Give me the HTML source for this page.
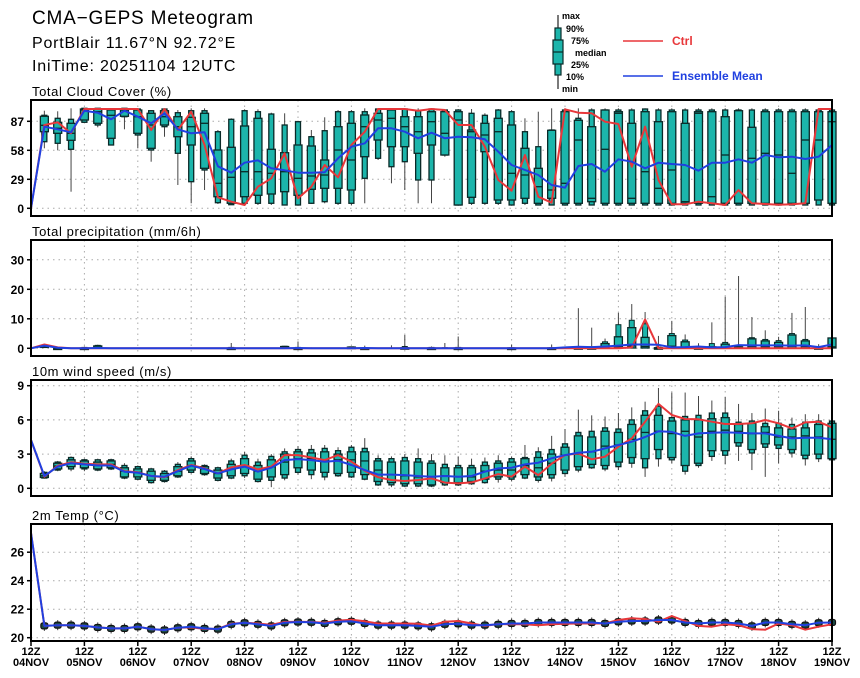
<!DOCTYPE html>
<html><head><meta charset="utf-8"><style>
html,body{margin:0;padding:0;background:#fff;}
svg{display:block;font-family:"Liberation Sans",sans-serif;}
</style></head><body>
<svg id="chart" width="860" height="678" viewBox="0 0 860 678">
<g>
<text x="32" y="24" font-size="19" letter-spacing="0.8">CMA−GEPS Meteogram</text>
<text x="32" y="48" font-size="16" letter-spacing="0.8">PortBlair 11.67°N 92.72°E</text>
<text x="32" y="71" font-size="16" letter-spacing="0.8">IniTime: 20251104 12UTC</text>
</g>
<g font-size="9" font-weight="bold">
<line x1="558" y1="15" x2="558" y2="89" stroke="#222" stroke-width="1.2"/>
<rect x="555" y="28" width="6" height="47" fill="#1cb5ab" stroke="#0a2a28" stroke-width="1.2"/>
<rect x="553" y="40" width="10" height="24" fill="#1cb5ab" stroke="#0a2a28" stroke-width="1.2"/>
<line x1="553" y1="52" x2="563" y2="52" stroke="#0a2a28" stroke-width="1.2"/>
<text x="562" y="19">max</text><text x="566" y="32">90%</text><text x="571" y="44">75%</text>
<text x="575" y="56">median</text><text x="571" y="68">25%</text><text x="566" y="80">10%</text><text x="562" y="92">min</text>
</g>
<g font-size="12" font-weight="bold">
<line x1="623" y1="41" x2="663" y2="41" stroke="#e8373a" stroke-width="1.5"/>
<text x="672" y="45" fill="#e8373a">Ctrl</text>
<line x1="623" y1="76" x2="663" y2="76" stroke="#2040e0" stroke-width="1.5"/>
<text x="672" y="80" fill="#2040e0">Ensemble Mean</text>
</g>
<g id="plots"></g>
</svg>
<script>
// time steps: 0..60 (6-hourly), boxes at 1..60
const dayLabels = ["04NOV","05NOV","06NOV","07NOV","08NOV","09NOV","10NOV","11NOV","12NOV","13NOV","14NOV","15NOV","16NOV","17NOV","18NOV","19NOV"];

const cloudTicks = [0,29,58,87];
const cloudMean = [0,81.6,79,76,97.6,95.6,89,97.6,91.6,85,95,79,75,76,42,35.6,45.6,48,40,38,35.6,35.6,36,50,61.6,65,80,80,76.6,70,75.6,70,71.6,71,69,56.6,43.3,38.3,33.3,23.3,20.6,42.3,44.3,36.6,49,46.6,40,45.6,44.3,43.3,37.6,45.6,45.6,49,45.6,53.3,51,51.6,49.3,51.6,63.3];
const cloudCtrl = [0,83.3,86,75,99.3,99.3,99.3,99.3,99.3,78.3,99.3,78.3,96.6,63.3,11,6.6,3.3,21.6,30,55,10,21.6,43.3,31,63.3,76.6,99.3,99.3,99.3,97.6,99.3,98.3,83.3,83.3,61.6,28.3,17.6,53.3,11.6,5.6,99,95.6,95,86.6,84.3,41.6,81.6,28.3,4,4,6.6,5,3.3,18.3,5,4.3,3.6,4,5,99.3,99.3];
const cloudMax = [97.6,97,100,100,100,100,100,100,98.3,100,98.3,100,100,78.3,90,99,99,95.6,95,87.6,78.3,91,98.3,98.3,100,100,100,100,100,100,99.3,99.3,99.3,95,99.3,98.3,90,96.6,100,100,100,100,100,100,100,100,100,100,100,100,100,100,100,100,100,100,100,100,100,100];
const cloudP90 = [93,90,89,100,100,99.3,100,99.3,97.6,99.3,95.6,97.6,97.6,76.6,89,97.6,96.6,94.3,83.3,86.6,71.6,77.6,96.6,96.6,96.6,99.3,99.3,99.3,97.6,99.3,98.3,98.3,95,93,98.3,96.6,76.6,61.6,78.3,98.3,90,98.3,98.3,98.3,98.3,99.3,98.3,98.3,98.3,98.3,98.3,98.3,98.3,98.3,98.3,98.3,98.3,98.3,98.3,98.3];
const cloudP75 = [92,86,85,99.3,99.3,98.3,99.3,98.3,95,97.6,91.6,91,95,58.3,61,82.3,90,59,55.6,63.3,62.3,48.3,81.6,85,93.3,95,98.3,91.6,91.6,96.6,96.6,96.6,78.3,85,90,83.3,60,40,78,96.6,88,81.6,98.3,96.6,85,96.6,86.6,96.6,85,96.6,96.6,91.6,97.6,81,96.6,96.6,96.6,96.6,96.6,96.6];
const cloudMed = [83,80,75,98.3,96.6,93,98.3,91.6,83.3,91.6,81.6,81.6,85,25,31,36.6,36.6,35,36.6,30,32.3,33.3,58.3,48.3,81.6,88.3,90,81.6,76.6,86.6,75,88.3,76.6,73.3,76.6,35,33.3,21.6,18.3,25,68.3,10,59,95,10,36.6,20,38.3,6.6,95,11.6,53.3,5,50,55,53.3,35,68.3,68.3,86.6];
const cloudP25 = [76.6,75,68,88.3,85,70,92,75,60,83.3,71.6,63.3,40,11.6,5,11.6,13,14.3,16.6,13,19,20,20,18.3,51.6,68.3,61.6,61.6,55,63.3,53.3,3.3,11,56.6,8.3,8.3,10,5,10,5,5,6.6,5,5,5,5,5,5,5,5,5,5,5,5,5,5,5,5,8.3,5];
const cloudP10 = [66.6,65,59,86,83.3,63.3,91.6,73.3,58.3,81.6,55,26.6,38.3,5.6,3.6,5,5,5,3.3,3.3,5,6.6,5,5,30,50,41.6,46.6,28.3,28.3,53.3,3.3,5,5,5,3.3,5,3.3,3.3,3.3,3.3,3.3,3.3,3.3,3.3,3.3,3.3,3.3,3.3,3.3,3.3,3.3,3.3,3.3,3.3,3.3,3.3,3.3,3.3,3.3];
const cloudMin = [60,58,16.6,85.6,81,63.3,79,60,46.6,71.6,23.3,5,18.3,4.3,3.3,3.3,3.3,3.3,3.3,3.3,4.3,5,3.3,3.3,5,48.3,25,18.3,5,5,51.6,3.3,3.3,3.3,3.3,3.3,3.3,3.3,3.3,3.3,3.3,3.3,3.3,3.3,3.3,3.3,3.3,3.3,3.3,3.3,3.3,3.3,3.3,3.3,3.3,3.3,3.3,3.3,3.3,3.3];

const precTicks = [0,10,20,30];
const precMean = [0,0.9,0.2,0,0,0.1,0,0,0,0,0,0,0,0,0,0,0,0,0,0,0.1,0,0,0,0,0.1,0,0,0,0,0,0,0,0,0,0,0,0,0,0,0.3,0.5,0.4,0.6,0.9,1.3,1.3,1.2,0.3,0.4,0.6,0.3,0.4,1.1,1.0,1.0,1.0,0.9,1.0,0.4,1.3];
const precCtrl = [0,1.3,0.3,0,0,0,0,0,0,0,0,0,0,0,0,0,0,0,0,0,0,0,0,0,0,0,0,0,0,0,0,0,0,0,0,0,0,0,0,0,0,0,0,0,0,0.3,9.8,0,0,0,0,0,0,0,0,0,0,0,0,0,0];
const precMax = [1.3,0.3,0.1,0.6,1.2,0,0,0,0,0,0,0,0,0,1.8,0,0,0,0.8,2.3,0.3,0,0,0.6,0.9,0.2,1.0,4.5,0,0.6,1.8,4.0,0,0,0,1.3,0,0,1.3,0,13.6,7.0,3.3,12.0,15.0,12.3,4.2,9.3,4.7,1.7,8.8,17.5,24.5,10.6,6.1,3.9,12.0,14.0,1.4,3.5];
const precP90 = [1.1,0.2,0,0.3,1.0,0,0,0,0,0,0,0,0,0,0.3,0,0,0,0.7,0.3,0,0,0,0.5,0.2,0,0.1,0.6,0,0.3,0.2,0.3,0,0,0,0.2,0,0,0.2,0,0.6,0.5,2.2,8.0,9.5,8.3,0.4,5.0,2.8,0.4,1.6,2.0,1.0,3.6,3.0,2.6,5.0,3.0,0.4,3.5];
const precP75 = [0.9,0.1,0,0.1,0.8,0,0,0,0,0,0,0,0,0,0.1,0,0,0,0.6,0.1,0,0,0,0.4,0.1,0,0,0.2,0,0.1,0,0.1,0,0,0,0.1,0,0,0.1,0,0.2,0.2,1.6,3.9,7.0,3.7,0.2,4.3,2.2,0.2,0.5,1.4,0.5,3.2,2.5,2.0,4.5,2.5,0.2,3.5];
const precMed = [0.6,0,0,0,0.3,0,0,0,0,0,0,0,0,0,0,0,0,0,0.3,0,0,0,0,0.2,0,0,0,0,0,0,0,0,0,0,0,0,0,0,0,0,0,0,0.6,0.5,0.8,0.6,0,0.7,0.4,0,0,0.3,0,0.6,0.5,0.4,0.7,0.6,0,0.5];
const precP25 = [0.3,0,0,0,0.1,0,0,0,0,0,0,0,0,0,0,0,0,0,0.1,0,0,0,0,0.1,0,0,0,0,0,0,0,0,0,0,0,0,0,0,0,0,0,0,0.1,0.1,0.1,0.1,0,0.1,0.1,0,0,0.1,0,0.1,0.1,0.1,0.1,0.1,0,0.1];

const windTicks = [0,3,6,9];
const windMean = [4.24,1.08,1.9,2.2,2.1,2.0,2.0,1.46,1.37,1.08,1.02,1.5,1.98,1.69,1.31,1.66,1.9,1.46,1.81,2.47,2.56,2.47,2.33,2.42,2.04,1.6,1.2,1.2,1.16,1.08,1.02,1.08,1.02,1.08,1.46,1.75,1.81,2.1,2.25,2.63,2.91,3.12,3.2,3.5,3.8,4.09,4.5,5.0,4.95,4.6,4.82,4.88,4.9,4.88,4.82,4.82,4.6,4.38,4.44,4.44,4.3];
const windCtrl = [4.24,1.02,1.98,2.28,2.16,2.1,2.1,1.5,1.4,1.08,0.97,1.6,2.04,1.75,1.31,1.84,2.04,1.66,1.9,2.91,2.91,2.7,2.47,2.91,2.33,1.54,0.97,0.73,0.64,0.73,0.87,0.5,0.43,0.52,0.87,1.25,1.02,1.9,1.16,2.16,2.91,3.06,2.54,2.77,3.65,4.38,5.84,7.4,6.43,6.08,6.05,5.84,5.64,5.64,5.7,5.99,5.7,5.25,5.78,5.84,5.34];
const windMed = [1.1,1.95,2.2,2.1,2.0,2.1,1.5,1.4,1.1,1.0,1.5,2.0,1.7,1.3,1.7,2.0,1.5,1.9,2.3,2.6,2.6,2.4,2.5,2.5,2.4,1.6,1.2,1.1,1.0,1.0,1.1,1.0,1.0,1.5,1.6,1.6,2.0,1.8,2.2,2.9,3.0,3.2,3.7,3.8,4.3,4.9,5.0,4.8,5.0,4.5,5.0,5.1,5.0,4.8,4.9,4.5,4.5,4.6,4.5,4.3];
const windP25 = [0.95,1.7,1.9,1.8,1.7,1.8,1.0,1.0,0.7,0.7,1.1,1.6,1.3,0.9,1.1,1.3,0.8,1.0,1.2,1.8,1.6,1.4,1.3,1.4,1.2,0.6,0.5,0.4,0.4,0.3,0.5,0.5,0.6,0.8,1.0,1.0,1.2,1.0,1.2,1.6,1.9,2.1,2.0,2.3,2.7,2.6,3.4,2.7,2.0,2.2,3.3,3.3,4.0,3.4,3.9,3.8,3.4,2.9,3.0,2.6];
const windP75 = [1.3,2.2,2.5,2.4,2.3,2.4,1.8,1.7,1.5,1.3,1.9,2.4,1.9,1.6,2.1,2.6,2.0,2.5,3.0,3.2,3.1,3.2,3.0,3.2,3.2,2.4,2.3,2.4,2.3,2.2,1.8,1.8,1.8,2.0,2.2,2.3,2.6,2.7,3.0,3.6,4.6,4.5,5.0,4.9,5.6,6.4,6.4,5.9,6.0,6.0,6.1,6.2,5.6,5.7,5.4,5.3,5.2,5.3,5.6,5.7];
const windP10 = [0.9,1.6,1.7,1.7,1.6,1.7,0.9,0.8,0.5,0.6,1.0,1.4,1.2,0.7,0.9,1.1,0.6,0.7,0.9,1.4,1.2,1.0,1.1,1.0,0.8,0.3,0.3,0.2,0.2,0.2,0.3,0.3,0.4,0.5,0.8,0.8,0.9,0.7,0.9,1.3,1.6,1.8,1.7,1.9,2.2,1.8,2.6,2.5,1.5,2.0,2.8,2.9,3.7,3.1,3.6,3.5,3.1,2.6,2.6,2.5];
const windP90 = [1.4,2.3,2.7,2.5,2.5,2.5,2.0,1.9,1.7,1.5,2.1,2.6,2.0,1.8,2.4,2.9,2.3,2.8,3.2,3.4,3.4,3.5,3.3,3.6,3.5,2.6,2.6,2.7,2.6,2.4,2.1,2.0,2.0,2.3,2.4,2.6,2.7,3.2,3.4,3.9,4.9,5.0,5.3,5.2,6.0,6.8,7.2,6.2,6.3,6.4,6.6,6.6,5.8,5.9,5.7,5.7,5.6,5.8,5.9,5.9];
const windMin = [0.85,1.5,1.5,1.5,1.5,1.6,0.8,0.7,0.4,0.5,0.9,1.3,1.1,0.6,0.8,0.9,0.5,0.1,0.7,1.2,0.8,0.7,1.0,0.9,0.7,0.2,0.1,0.1,0.1,0.1,0.2,0.2,0.3,0.4,0.5,0.6,0.8,0.5,0.6,1.0,1.4,1.7,1.5,1.6,1.8,1.0,1.9,2.2,1.2,1.8,2.4,2.1,2.4,1.6,1.0,2.2,2.7,2.0,2.3,2.4];
const windMax = [1.5,2.4,2.8,2.6,2.6,2.6,2.2,2.0,1.8,1.6,2.3,2.8,2.1,1.9,2.6,3.2,2.6,3.0,3.5,3.7,3.8,3.8,3.6,3.8,4.4,2.9,2.8,3.0,3.5,3.0,2.9,2.8,2.6,2.7,2.9,2.8,3.8,3.6,4.6,5.2,6.9,6.4,6.3,6.6,7.1,7.6,8.8,8.4,8.4,8.1,7.7,8.0,7.4,6.6,7.0,6.8,6.2,6.5,6.5,6.1];

const tempTicks = [20,22,24,26];
const tempMean = [27.35,20.83,20.88,20.88,20.83,20.72,20.65,20.65,20.77,20.6,20.54,20.7,20.77,20.65,20.6,20.94,21.05,20.94,20.83,21.05,21.1,21.08,21.0,21.12,21.15,21.0,20.88,20.88,20.88,20.83,20.77,20.94,20.98,20.88,20.88,20.94,21.0,21.0,21.07,21.07,21.07,21.07,21.07,21.0,21.12,21.17,21.17,21.24,21.24,21.07,21.0,21.07,21.07,21.0,20.83,21.07,21.07,20.94,20.88,21.05,21.07];
const tempCtrl = [27.35,20.83,20.88,20.88,20.83,20.72,20.65,20.65,20.77,20.6,20.54,20.7,20.72,20.62,20.62,20.98,21.05,21.0,20.9,21.1,21.12,21.1,21.05,21.2,21.26,21.15,21.0,21.0,21.0,20.98,20.85,21.12,21.17,21.0,20.83,20.96,20.94,20.94,20.88,20.94,20.98,21.0,21.0,21.0,21.24,21.36,21.31,21.12,21.52,21.17,20.83,20.77,20.94,20.88,20.6,20.56,21.0,20.88,20.56,20.77,20.94];

const X0 = 31, X1 = 832, NSTEP = 60;
function xs(t){ return X0 + t*(X1-X0)/NSTEP; }
const NS = "http://www.w3.org/2000/svg";
const plots = document.getElementById('plots');
function mk(tag, attrs, parent){
  const e = document.createElementNS(NS, tag);
  for (const k in attrs) e.setAttribute(k, attrs[k]);
  (parent||plots).appendChild(e);
  return e;
}

const panels = [
  {key:'cloud', title:'Total Cloud Cover (%)', top:100, bottom:216, y0:208.3, vmin:0, ppu:1.0, ticks:cloudTicks,
   mean:cloudMean, ctrl:cloudCtrl, box:[cloudMin,cloudP10,cloudP25,cloudMed,cloudP75,cloudP90,cloudMax], wide:8, narrow:5},
  {key:'precip', title:'Total precipitation (mm/6h)', top:240, bottom:356, y0:348.3, vmin:0, ppu:2.95, ticks:precTicks,
   mean:precMean, ctrl:precCtrl, box:[null,null,precP25,precMed,precP75,precP90,precMax], wide:8, narrow:5},
  {key:'wind', title:'10m wind speed (m/s)', top:380, bottom:496, y0:488.3, vmin:0, ppu:11.4, ticks:windTicks,
   mean:windMean, ctrl:windCtrl, box:[windMin,windP10,windP25,windMed,windP75,windP90,windMax], wide:8, narrow:5},
  {key:'temp', title:'2m Temp (°C)', top:524, bottom:641, y0:637.7, vmin:20, ppu:14.25, ticks:tempTicks,
   mean:tempMean, ctrl:tempCtrl, box:null, wide:8, narrow:5}
];

panels.forEach(p => {
  const g = mk('g', {});
  
  
  const ys = v => p.y0 - (v - p.vmin)*p.ppu;
  const t = mk('text', {x:32, y:p.top-4, 'font-size':13, 'letter-spacing':'0.6'}, g);
  t.textContent = p.title;
  
  
  // grid
  for (let d=1; d<15; d++){
    const gl = mk('line', {x1:xs(d*4), x2:xs(d*4), y1:p.top, y2:p.bottom, stroke:'#aaa', 'stroke-width':1, 'stroke-dasharray':'1.5,4'}, g);
    
    
  }
  p.ticks.forEach(v => {
    const y = ys(v);
    const gl = mk('line', {x1:X0, x2:X1, y1:y, y2:y, stroke:'#aaa', 'stroke-width':1, 'stroke-dasharray':'1.5,4'}, g);
    
    
    mk('line', {x1:X0-4, x2:X0, y1:y, y2:y, stroke:'#000', 'stroke-width':1.5}, g);
    const tl = mk('text', {x:X0-7, y:y+4.5, 'font-size':12, 'font-weight':'bold', 'text-anchor':'end'}, g);
    tl.textContent = v;
    
    
  });
  // boxes
  if (p.box){
    const [mn,p10,p25,md,p75,p90,mx] = p.box;
    for (let i=0; i<60; i++){
      const x = xs(i+1);
      const bg = mk('g', {}, g);
      
      
      const lo = mn ? mn[i] : p25[i];
      mk('line', {x1:x, x2:x, y1:ys(mx[i]), y2:ys(lo), stroke:'#444', 'stroke-width':1}, bg);
      if (p10){
        const h = Math.max(ys(p10[i]) - ys(p90[i]), 1);
        mk('rect', {x:x-p.narrow/2, y:ys(p90[i]), width:p.narrow, height:h, fill:'#1cb5ab', stroke:'#0a2a28', 'stroke-width':1.3}, bg);
      } else if (p90[i] > p75[i]) {
        mk('rect', {x:x-p.narrow/2, y:ys(p90[i]), width:p.narrow, height:ys(p75[i])-ys(p90[i]), fill:'#1cb5ab', stroke:'#0a2a28', 'stroke-width':1}, bg);
      }
      if (p75[i] > 0.05){
        const h = Math.max(ys(p25[i]) - ys(p75[i]), 1.5);
        mk('rect', {x:x-p.wide/2, y:ys(p75[i]), width:p.wide, height:h, fill:'#1cb5ab', stroke:'#0a2a28', 'stroke-width':1.3}, bg);
        mk('line', {x1:x-p.wide/2, x2:x+p.wide/2, y1:ys(md[i]), y2:ys(md[i]), stroke:'#0a2a28', 'stroke-width':1.3}, bg);
      }
    }
  }
  if (p.key === 'temp'){
    for (let i=1; i<=60; i++){
      const x = xs(i), y = ys(p.mean[i]);
      const bg = mk('g', {}, g);
      
      
      mk('line', {x1:x, x2:x, y1:y-5, y2:y+5, stroke:'#333', 'stroke-width':1}, bg);
      mk('rect', {x:x-3.5, y:y-3, width:7, height:6, rx:2, fill:'#1a4a46', stroke:'#111', 'stroke-width':1.2}, bg);
    }
  }
  // lines
  const path = arr => arr.map((v,i)=>(i?'L':'M')+xs(i).toFixed(1)+','+ys(v).toFixed(1)).join(' ');
  const lc = mk('path', {d:path(p.ctrl), fill:'none', stroke:'#e8373a', 'stroke-width':2, 'stroke-linejoin':'round'}, g);
  
  
  const lm = mk('path', {d:path(p.mean), fill:'none', stroke:'#2040e0', 'stroke-width':2, 'stroke-linejoin':'round'}, g);
  
  
  // frame
  const fr = mk('rect', {x:X0, y:p.top, width:X1-X0, height:p.bottom-p.top, fill:'none', stroke:'#000', 'stroke-width':2}, g);
  
  
});

// x axis
const xg = mk('g', {'font-size':11, 'font-weight':'bold', 'text-anchor':'middle'});


dayLabels.forEach((lab, d) => {
  const x = xs(d*4);
  mk('line', {x1:x, x2:x, y1:641, y2:646, stroke:'#000', 'stroke-width':1.5}, xg);
  const t1 = mk('text', {x:x, y:655}, xg);
  t1.textContent = '12Z';
  
  
  const t2 = mk('text', {x:x, y:666}, xg);
  t2.textContent = lab;
  
  
});
</script>
</body></html>
